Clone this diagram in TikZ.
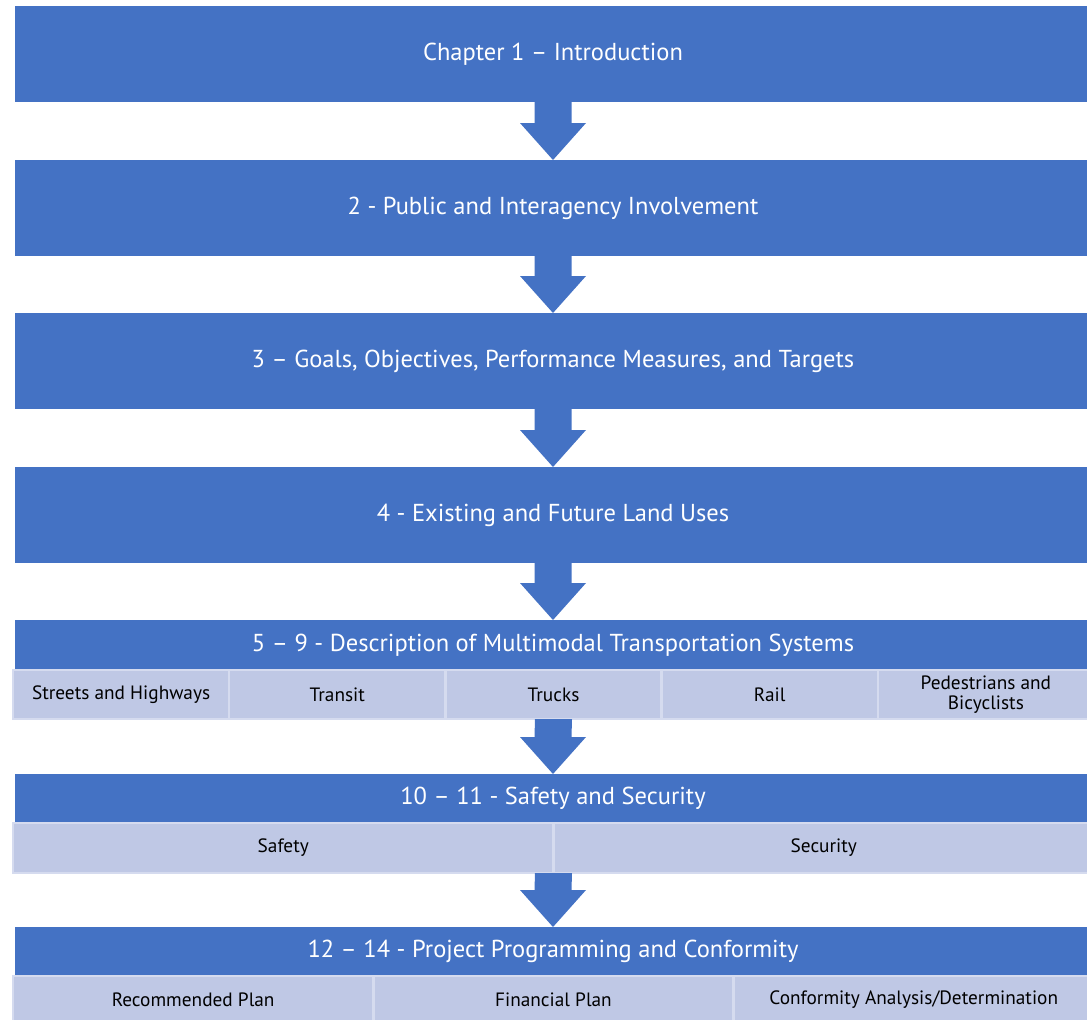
\documentclass[tikz,border=0pt]{standalone}
\usepackage{fontspec}
\setmainfont{PT Sans}
\usetikzlibrary{positioning, calc}
\definecolor{chapblue}{RGB}{68,114,196}
\definecolor{partfill}{RGB}{191,200,229}
\definecolor{partline}{RGB}{213,219,239}
\newcommand{\chaparrow}[2]{%
  \fill[chapblue] ($(#1)+(-18.5,0)$) -- ($(#2)+(-18.5,-37)$) -- ($(#2)+(-33,-37)$) -- (#2)
    -- ($(#2)+(33,-37)$) -- ($(#2)+(18.5,-37)$) -- ($(#1)+(18.5,0)$) -- cycle;}

\begin{document}
\begin{tikzpicture}[
        x=1pt, y=-1pt,
        chap/.style={fill=chapblue, text=white, minimum width=1076pt, inner sep=0pt, outer sep=0pt,
          font=\fontsize{24.5}{28}\selectfont},
        part/.style={fill=partfill, draw=partline, line width=2.5pt, inner sep=0pt, outer sep=0pt,
          align=center, font=\fontsize{19.3}{20.5}\selectfont},
        ]
        \useasboundingbox (0,0) rectangle (1087,1020);
        \clip (0,0) rectangle (1087,1020);

        \node[chap, minimum height=96pt] (c1) at (553,54) {Chapter 1 – Introduction};
        \node[chap, minimum height=96pt] (c2) at (553,208) {2 - Public and Interagency Involvement};
        \node[chap, minimum height=96pt] (c3) at (553,361) {3 – Goals, Objectives, Performance Measures, and Targets};
        \node[chap, minimum height=96pt] (c4) at (553,515) {4 - Existing and Future Land Uses};

        \node[chap, minimum height=50pt] (c5) at (553,645) {5 – 9 - Description of Multimodal Transportation Systems};
        \node[part, minimum width=216.2pt, minimum height=49pt, anchor=north west] (streets) at (13,670) {Streets and Highways};
        \node[part, minimum width=216.2pt, minimum height=49pt, right=0pt of streets] (transit) {Transit};
        \node[part, minimum width=216.2pt, minimum height=49pt, right=0pt of transit] (trucks) {Trucks};
        \node[part, minimum width=216.2pt, minimum height=49pt, right=0pt of trucks] (rail) {Rail};
        \node[part, minimum width=216.2pt, minimum height=49pt, right=0pt of rail] (peds) {Pedestrians and\\Bicyclists};

        \node[chap, minimum height=49pt] (c6) at (553,798.5) {10 – 11 - Safety and Security};
        \node[part, minimum width=540.5pt, minimum height=50pt, anchor=north west] (safety) at (13,823) {Safety};
        \node[part, minimum width=540.5pt, minimum height=50pt, right=0pt of safety] (security) {Security};

        \node[chap, minimum height=49pt] (c7) at (553,951.5) {12 – 14 - Project Programming and Conformity};
        \node[part, minimum width=360.3pt, minimum height=48pt, anchor=north west] (recplan) at (13,976) {Recommended Plan};
        \node[part, minimum width=360.3pt, minimum height=48pt, right=0pt of recplan] (finplan) {Financial Plan};
        \node[part, minimum width=360.3pt, minimum height=48pt, right=0pt of finplan] (conformity) {Conformity Analysis/Determination};

        \chaparrow{c1.south}{c2.north}
        \chaparrow{c2.south}{c3.north}
        \chaparrow{c3.south}{c4.north}
        \chaparrow{c4.south}{c5.north}
        \chaparrow{trucks.south}{c6.north}
        \chaparrow{safety.south east}{c7.north}
      \end{tikzpicture}
\end{document}
